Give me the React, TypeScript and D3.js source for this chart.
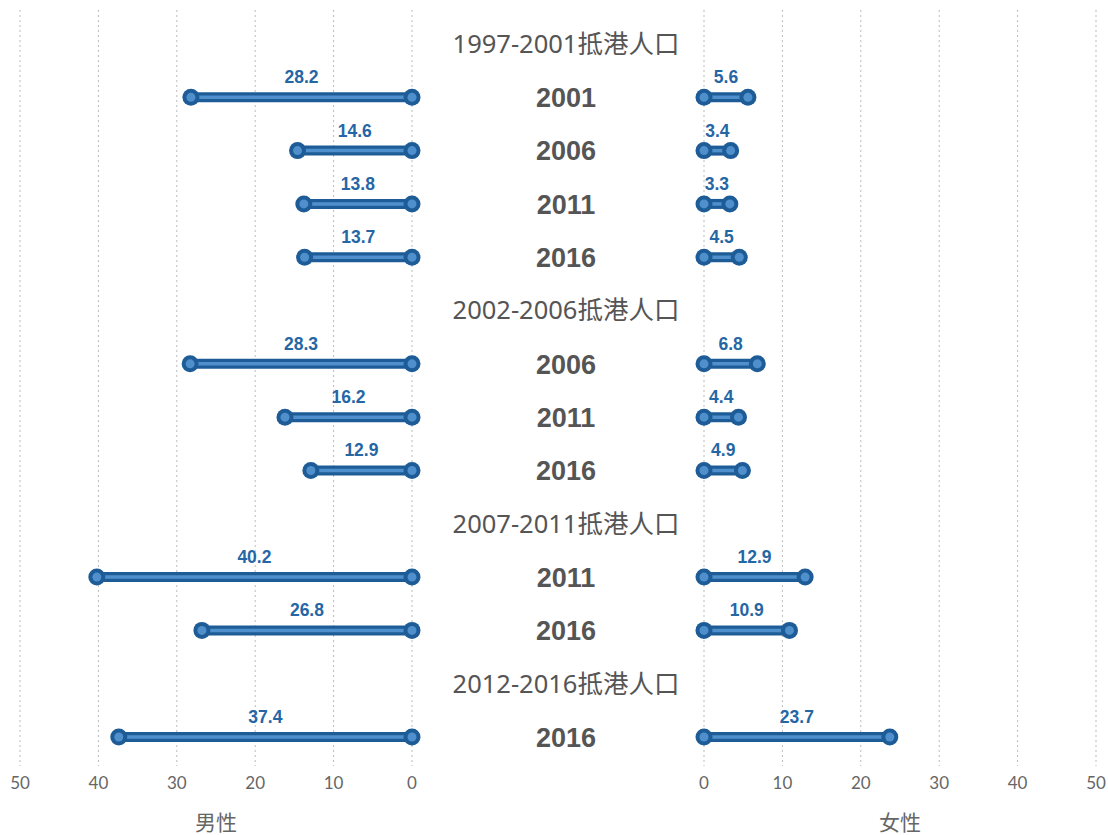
import React from "react";
import * as d3 from "d3";

// Cohorts of arrivals, and the census years each cohort was observed in
const groups = ["1997-2001抵港人口", "2002-2006抵港人口", "2007-2011抵港人口", "2012-2016抵港人口"];
const groupYears = [
  ["2001", "2006", "2011", "2016"],
  ["2006", "2011", "2016"],
  ["2011", "2016"],
  ["2016"],
];
const maleValues = [
  [28.2, 14.6, 13.8, 13.7],
  [28.3, 16.2, 12.9],
  [40.2, 26.8],
  [37.4],
];
const femaleValues = [
  [5.6, 3.4, 3.3, 4.5],
  [6.8, 4.4, 4.9],
  [12.9, 10.9],
  [23.7],
];
const ticks = [0, 10, 20, 30, 40, 50];

const W = 1108;
const H = 835;
const DARK = "#1d5c97";
const LIGHT = "#4f8fcc";
const LABEL = "#2566a5";
const GREY = "#666";

type Row = { key: string; kind: "title" | "row"; text: string; male?: number; female?: number };

const rows: Row[] = [];
groups.forEach((g, gi) => {
  rows.push({ key: `t${gi}`, kind: "title", text: g });
  groupYears[gi].forEach((y, yi) => {
    rows.push({ key: `r${gi}-${yi}`, kind: "row", text: y, male: maleValues[gi][yi], female: femaleValues[gi][yi] });
  });
});

const yScale = d3.scalePoint<string>().domain(rows.map((r) => r.key)).range([44, 737]);
const xMale = d3.scaleLinear().domain([50, 0]).range([20, 412]);
const xFemale = d3.scaleLinear().domain([0, 50]).range([704, 1096]);
const centerX = 566;

function Dumbbell({ x0, x1, y, value }: { x0: number; x1: number; y: number; value: number }) {
  const a = Math.min(x0, x1);
  const b = Math.max(x0, x1);
  return (
    <g>
      <line x1={a} x2={b} y1={y} y2={y} stroke={DARK} strokeWidth={10} />
      <line x1={a} x2={b} y1={y} y2={y} stroke={LIGHT} strokeWidth={3.5} />
      {[x0, x1].map((cx, i) => (
        <g key={i}>
          <circle cx={cx} cy={y} r={8.5} fill={DARK} />
          <circle cx={cx} cy={y} r={4.5} fill={LIGHT} />
        </g>
      ))}
      <text
        x={(a + b) / 2}
        y={y - 14}
        textAnchor="middle"
        fontFamily="'Liberation Sans', Arial, sans-serif"
        fontWeight="bold"
        fontSize={17.5}
        fill={LABEL}
      >
        {value}
      </text>
    </g>
  );
}

export default function App() {
  return (
    <svg width={W} height={H} style={{ display: "block", position: "absolute", left: 0, top: 0, background: "#fff" }}>
      {/* dotted grid lines */}
      {ticks.map((t) => (
        <g key={`g${t}`}>
          <line x1={xMale(t)} x2={xMale(t)} y1={10} y2={766} stroke="#bbb" strokeWidth={1} strokeDasharray="2,3" />
          <line x1={xFemale(t)} x2={xFemale(t)} y1={10} y2={766} stroke="#bbb" strokeWidth={1} strokeDasharray="2,3" />
        </g>
      ))}

      {rows.map((r) => {
        const y = yScale(r.key)!;
        if (r.kind === "title") {
          return (
            <text
              key={r.key}
              x={centerX}
              y={y}
              dy="0.35em"
              textAnchor="middle"
              fontFamily="'Noto Sans', 'Noto Sans CJK SC', sans-serif"
              fontSize={25.5}
              fill="#555"
            >
              {r.text}
            </text>
          );
        }
        return (
          <g key={r.key}>
            <Dumbbell x0={xMale(r.male!)} x1={xMale(0)} y={y} value={r.male!} />
            <Dumbbell x0={xFemale(0)} x1={xFemale(r.female!)} y={y} value={r.female!} />
            <text
              x={centerX}
              y={y}
              dy="0.36em"
              textAnchor="middle"
              fontFamily="'Liberation Sans', Arial, sans-serif"
              fontWeight="bold"
              fontSize={27}
              fill="#555"
            >
              {r.text}
            </text>
          </g>
        );
      })}

      {/* tick labels */}
      {ticks.map((t) => (
        <g key={`t${t}`} fontFamily="Lato, 'Noto Sans', sans-serif" fontSize={17} fill={GREY} textAnchor="middle">
          <text x={xMale(t)} y={789}>{t}</text>
          <text x={xFemale(t)} y={789}>{t}</text>
        </g>
      ))}

      {/* axis titles */}
      <text x={(xMale(50) + xMale(0)) / 2} y={830} textAnchor="middle" fontFamily="'Noto Sans CJK SC', sans-serif" fontSize={21} fill={GREY}>
        男性
      </text>
      <text x={(xFemale(0) + xFemale(50)) / 2} y={830} textAnchor="middle" fontFamily="'Noto Sans CJK SC', sans-serif" fontSize={21} fill={GREY}>
        女性
      </text>
    </svg>
  );
}
